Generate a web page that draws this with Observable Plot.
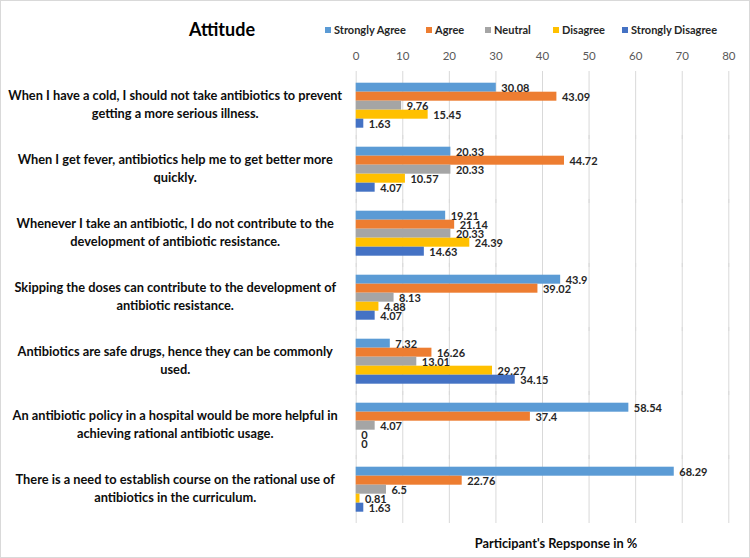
<!DOCTYPE html>
<html>
<head>
<meta charset="utf-8">
<script src="https://cdn.jsdelivr.net/npm/d3@7"></script>
<script src="https://cdn.jsdelivr.net/npm/@observablehq/plot@0.6"></script>
<style>
  body { margin: 0; background: #fff; }
  #wrap { position: relative; width: 750px; height: 558px; font-family: Lato, "Open Sans", sans-serif; overflow: hidden; }
  #border { position: absolute; left: 0; top: 0; width: 750px; height: 558px; box-sizing: border-box; border: 1px solid #d9d9d9; pointer-events: none; }
  #title { position: absolute; left: 189px; top: 19px; font-size: 18px; font-weight: bold; line-height: 20px; color: #000; }
  .lg { position: absolute; top: 23px; font-size: 11px; font-weight: bold; line-height: 14px; color: #262626; white-space: nowrap; }
  .sw { display: inline-block; width: 6px; height: 6px; margin-right: 3px; vertical-align: 1px; }
  #xlabel { position: absolute; left: 370px; width: 372px; top: 536px; text-align: center; font-size: 12.8px; font-weight: bold; line-height: 14px; color: #0d0d0d; }
  #chart { position: absolute; left: 0; top: 0; }
</style>
</head>
<body>
<div id="wrap">
  <div id="chart"></div>
  <div id="title">Attitude</div>
  <div id="legend"></div>
  <div id="xlabel"></div>
  <div id="border"></div>
</div>
<script>
const statements = [
  "When I have a cold, I should not take antibiotics to prevent\ngetting a more serious illness.",
  "When I get fever, antibiotics help me to get better more\nquickly.",
  "Whenever I take an antibiotic, I do not contribute to the\ndevelopment of antibiotic resistance.",
  "Skipping the doses can contribute to the development of\nantibiotic resistance.",
  "Antibiotics are safe drugs, hence they can be commonly\nused.",
  "An antibiotic policy in a hospital would be more helpful in\nachieving rational antibiotic usage.",
  "There is a need to establish course on the rational use of\nantibiotics in the curriculum."
];
const series = ["Strongly Agree", "Agree", "Neutral", "Disagree", "Strongly Disagree"];
const stronglyAgree    = [30.08, 20.33, 19.21, 43.9, 7.32, 58.54, 68.29];
const agree            = [43.09, 44.72, 21.14, 39.02, 16.26, 37.4, 22.76];
const neutral          = [9.76, 20.33, 20.33, 8.13, 13.01, 4.07, 6.5];
const disagree         = [15.45, 10.57, 24.39, 4.88, 29.27, 0, 0.81];
const stronglyDisagree = [1.63, 4.07, 14.63, 4.07, 34.15, 0, 1.63];
const colors = ["#5B9BD5", "#ED7D31", "#A5A5A5", "#FFC000", "#4472C4"];
const xTicks = [0, 10, 20, 30, 40, 50, 60, 70, 80];
const xLabel = "Participant's Repsponse in %";

const seriesValues = [stronglyAgree, agree, neutral, disagree, stronglyDisagree];
const rows = [];
statements.forEach((s, i) => {
  series.forEach((k, j) => rows.push({statement: s, series: k, value: seriesValues[j][i]}));
});

// legend
const legendX = [325, 426, 485, 553, 622];
const legend = document.getElementById("legend");
series.forEach((k, j) => {
  const d = document.createElement("div");
  d.className = "lg";
  d.style.left = legendX[j] + "px";
  d.innerHTML = `<span class="sw" style="background:${colors[j]}"></span>${k}`;
  legend.appendChild(d);
});
document.getElementById("xlabel").textContent = xLabel;

const chart = Plot.plot({
  width: 750,
  height: 558,
  marginLeft: 355.7,
  marginRight: 21.7,
  marginTop: 68.3,
  marginBottom: 31.3,
  style: {fontFamily: "Lato, 'Open Sans', sans-serif", background: "transparent"},
  x: {domain: [0, 80], axis: null},
  y: {domain: series, padding: 0, axis: null},
  fy: {domain: statements, paddingInner: 0.28, paddingOuter: 0.17, axis: null},
  color: {domain: series, range: colors},
  marks: [
    Plot.ruleX(xTicks, {x: d => d, stroke: "#d9d9d9", strokeWidth: 1, insetTop: -11, insetBottom: -11}),
    Plot.axisX(xTicks, {anchor: "top", tickSize: 0, tickPadding: 23, fontSize: 11.5, fill: "#595959", label: null}),
    Plot.barX(rows, {x: "value", y: "series", fy: "statement", fill: "series"}),
    Plot.text(rows, {x: "value", y: "series", fy: "statement", text: d => String(d.value), textAnchor: "start", dx: 5, dy: 1, fontSize: 11, fontWeight: "bold", fill: "#262626"}),
    Plot.text(statements, {fy: d => d, text: d => d, frameAnchor: "left", dx: -181, dy: -2, textAnchor: "middle", lineHeight: 1.35, fontSize: 12.8, fontWeight: "bold", fill: "#0d0d0d"})
  ]
});
document.getElementById("chart").appendChild(chart);
</script>
</body>
</html>
